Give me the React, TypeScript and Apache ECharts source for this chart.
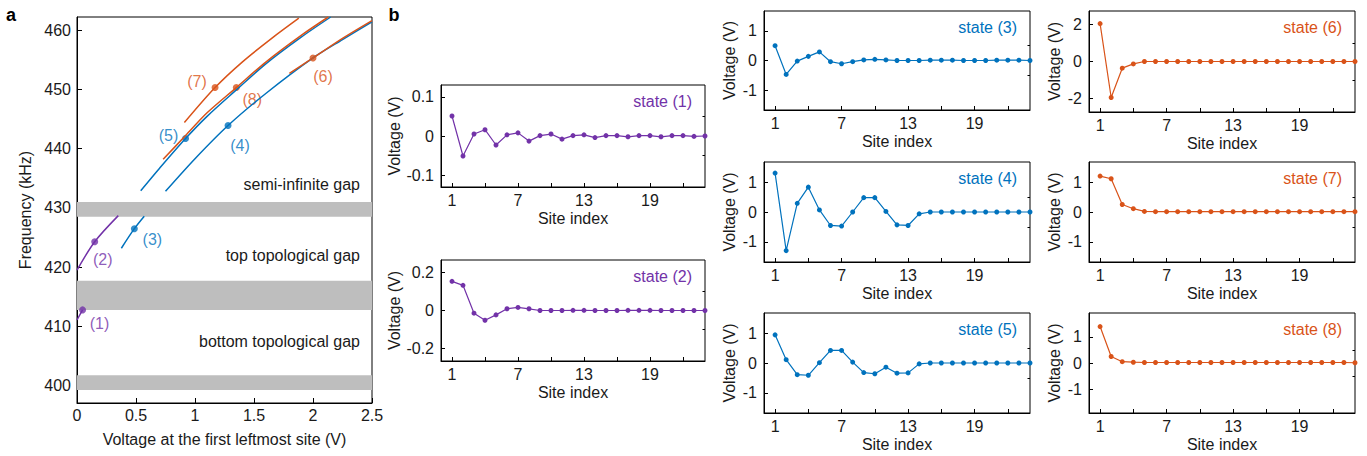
import React, { useEffect, useRef } from 'react';
import * as echarts from 'echarts';

// ---------- Panel a data ----------
const gapBands: [number, number][] = [
  [399.3, 401.8],
  [412.8, 417.7],
  [428.5, 431.0],
];

const curve1V = [0, 0.047];
const curve1F = [411.1, 412.8];
const curve2V = [0, 0.15, 0.35];
const curve2F = [419.5, 424.3, 428.7];
const curve3V = [0.376, 0.486, 0.57];
const curve3F = [423.2, 426.5, 428.6];
const curve4V = [0.75, 1.0, 1.28, 1.6, 2.0, 2.25, 2.5];
const curve4F = [432.8, 438.3, 443.9, 449.3, 455.3, 458.4, 461.4];
const curve5V = [0.54, 0.7, 0.92, 1.1, 1.35, 1.6, 1.9, 2.15];
const curve5F = [432.9, 436.7, 441.7, 445.4, 449.9, 454.3, 458.8, 462.2];
const curve6V = [1.8, 2.0, 2.25, 2.5];
const curve6F = [452.7, 455.3, 458.6, 461.6];
const curve7V = [0.91, 1.17, 1.4, 1.65, 1.88];
const curve7F = [444.4, 450.3, 454.6, 458.6, 462.0];
const curve8V = [0.73, 0.92, 1.1, 1.35, 1.6, 1.9, 2.13];
const curve8F = [438.2, 442.2, 446.0, 450.3, 454.6, 459.1, 462.2];

const markerNames = ['(1)', '(2)', '(3)', '(4)', '(5)', '(6)', '(7)', '(8)'];
const markerV = [0.047, 0.15, 0.486, 1.28, 0.92, 2.0, 1.17, 1.35];
const markerF = [412.8, 424.3, 426.5, 443.9, 441.7, 455.3, 450.3, 450.3];

const freqTicks = [400, 410, 420, 430, 440, 450, 460];
const gapTexts = ['semi-infinite gap', 'top topological gap', 'bottom topological gap'];

// ---------- Panel b data ----------
const sites = Array.from({ length: 24 }, (_, i) => i + 1);
const siteLabelTicks = [1, 7, 13, 19];
const siteMinorTicks = [1, 4, 7, 10, 13, 16, 19, 22];

const state1 = [0.051, -0.051, 0.005, 0.016, -0.023, 0.003, 0.008, -0.013, 0.001, 0.005, -0.008, 0.001, 0.003, -0.004, 0.001, 0.001, -0.002, 0.001, 0.001, -0.002, 0.001, 0.001, -0.001, 0];
const state2 = [0.153, 0.132, -0.014, -0.051, -0.023, 0.009, 0.016, 0.009, 0, 0, 0, 0.001, 0.001, 0, 0, 0, 0.001, 0.001, 0.001, 0, 0, 0, 0, 0];
const state3 = [0.5, -0.47, -0.02, 0.14, 0.29, -0.04, -0.11, -0.04, 0.02, 0.04, 0.02, 0, 0, 0, 0.01, 0.01, 0.01, 0, 0, 0, 0.01, 0.01, 0.01, 0];
const state4 = [1.3, -1.29, 0.29, 0.83, 0.07, -0.45, -0.47, 0.0, 0.48, 0.48, 0.02, -0.43, -0.45, -0.06, 0, 0, 0, 0, 0, 0, 0, 0, 0, 0];
const state5 = [0.94, 0.11, -0.39, -0.41, 0.01, 0.42, 0.42, 0.03, -0.32, -0.36, -0.14, -0.34, -0.33, -0.03, 0, 0, 0, 0, 0, 0, 0, 0, 0, 0];
const state6 = [2.04, -1.94, -0.36, -0.13, 0, 0, 0, 0, 0, 0, 0, 0, 0, 0, 0, 0, 0, 0, 0, 0, 0, 0, 0, 0];
const state7 = [1.2, 1.11, 0.25, 0.11, 0.02, 0.01, 0.01, 0.01, 0.01, 0.01, 0.01, 0.01, 0.01, 0.01, 0.01, 0.01, 0.01, 0.01, 0.01, 0.01, 0.01, 0.01, 0.01, 0.01];
const state8 = [1.4, 0.25, 0.05, 0.03, 0.02, 0.02, 0.02, 0.02, 0.02, 0.02, 0.02, 0.02, 0.02, 0.02, 0.02, 0.02, 0.02, 0.02, 0.02, 0.02, 0.02, 0.02, 0.02, 0.01];

const stateNames = ['state (1)', 'state (2)', 'state (3)', 'state (4)', 'state (5)', 'state (6)', 'state (7)', 'state (8)'];
const stateValues = [state1, state2, state3, state4, state5, state6, state7, state8];
const stateYMax = [0.13, 0.265, 1.67, 1.67, 1.67, 2.72, 1.67, 1.92];
const stateYLabels = [
  [-0.1, 0, 0.1],
  [-0.2, 0, 0.2],
  [-1, 0, 1],
  [-1, 0, 1],
  [-1, 0, 1],
  [-2, 0, 2],
  [-1, 0, 1],
  [-1, 0, 1],
];
const stateYMinor = [
  [-0.05, 0.05],
  [-0.1, 0.1],
  [-0.5, 0.5],
  [-0.5, 0.5],
  [-0.5, 0.5],
  [-1, 1],
  [-0.5, 0.5],
  [-0.5, 0.5],
];

// ---------- Styles ----------
const BLUE = '#0072BD';
const ORANGE = '#D95319';
const PURPLE = '#7232A8';
const GRAY = '#BEBEBE';
const TXT = '#1a1a1a';
const FONT = '"Liberation Sans", Arial, sans-serif';
const FS = 16;

const markerColors = [PURPLE, PURPLE, BLUE, BLUE, BLUE, ORANGE, ORANGE, ORANGE];
const markerOffsets = [[17, 14], [8, 18], [18, 11], [12, 20], [-17, -3], [10, 19], [-18, -6], [16, 12]];
const stateColors = [PURPLE, PURPLE, BLUE, BLUE, BLUE, ORANGE, ORANGE, ORANGE];

const grids = [
  { left: 77, top: 17, width: 295, height: 386 },
  { left: 441, top: 85, width: 264, height: 102 },
  { left: 441, top: 260, width: 264, height: 101 },
  { left: 764, top: 11, width: 266, height: 99 },
  { left: 764, top: 162, width: 266, height: 100 },
  { left: 764, top: 313, width: 266, height: 100 },
  { left: 1089, top: 11, width: 266, height: 101 },
  { left: 1089, top: 162, width: 266, height: 100 },
  { left: 1089, top: 313, width: 266, height: 100 },
];
const stateYNameGap = [39, 39, 27, 27, 27, 27, 27, 27];

function zip(a: number[], b: number[]) {
  return a.map((v, i) => [v, b[i]]);
}

export default function App() {
  const ref = useRef<HTMLDivElement>(null);
  useEffect(() => {
    const chart = echarts.init(ref.current!, null, { renderer: 'svg' });
    const axisLine = { show: true, onZero: false, lineStyle: { color: '#000', width: 1 } };
    const labelStyle = { color: TXT, fontSize: FS, fontFamily: FONT };

    const xAxis: any[] = [];
    const yAxis: any[] = [];
    const series: any[] = [];
    const graphic: any[] = [];

    // Panel a axes
    xAxis.push({
      type: 'value', gridIndex: 0, min: 0, max: 2.5, interval: 0.5,
      axisLine, splitLine: { show: false },
      axisTick: { show: true, inside: true, length: 5, lineStyle: { color: '#000' } },
      axisLabel: { ...labelStyle, margin: 4 },
      name: 'Voltage at the first leftmost site (V)', nameLocation: 'middle', nameGap: 28,
      nameTextStyle: labelStyle,
    });
    yAxis.push({
      type: 'value', gridIndex: 0, min: 397.1, max: 462.2,
      axisLine, splitLine: { show: false },
      axisTick: { show: true, inside: true, length: 5, customValues: freqTicks, lineStyle: { color: '#000' } },
      axisLabel: { ...labelStyle, margin: 6, customValues: freqTicks },
      name: 'Frequency (kHz)', nameLocation: 'middle', nameGap: 44,
      nameTextStyle: labelStyle,
    });

    // Panel b axes
    for (let s = 0; s < 8; s++) {
      const gi = s + 1;
      xAxis.push({
        type: 'value', gridIndex: gi, min: 0, max: 24,
        axisLine, splitLine: { show: false },
        axisTick: { show: true, inside: true, length: 4, customValues: siteMinorTicks, lineStyle: { color: '#000' } },
        axisLabel: { ...labelStyle, margin: 5, customValues: siteLabelTicks },
        name: 'Site index', nameLocation: 'middle', nameGap: 23,
        nameTextStyle: labelStyle,
      });
      yAxis.push({
        type: 'value', gridIndex: gi, min: -stateYMax[s], max: stateYMax[s],
        axisLine, splitLine: { show: false },
        axisTick: { show: true, inside: true, length: 4, customValues: stateYLabels[s], lineStyle: { color: '#000' } },
        axisLabel: { ...labelStyle, margin: 7, customValues: stateYLabels[s] },
        name: 'Voltage (V)', nameLocation: 'middle', nameGap: stateYNameGap[s],
        nameTextStyle: labelStyle,
      });
    }
    // minor y ticks for panel b
    for (let s = 0; s < 8; s++) {
      const gi = s + 1;
      yAxis.push({
        type: 'value', gridIndex: gi, min: -stateYMax[s], max: stateYMax[s],
        axisLine: { show: false, onZero: false }, splitLine: { show: false },
        axisTick: { show: true, inside: true, length: 2.5, customValues: stateYMinor[s], lineStyle: { color: '#000' } },
        axisLabel: { show: false },
      });
    }

    // Panel a: gap bands
    series.push({
      type: 'line', xAxisIndex: 0, yAxisIndex: 0, data: [], silent: true,
      markArea: {
        silent: true,
        itemStyle: { color: GRAY },
        data: gapBands.map(([a, b]) => [{ yAxis: a }, { yAxis: b }]),
      },
    });

    const curves: [number[], number[], string][] = [
      [curve1V, curve1F, PURPLE],
      [curve2V, curve2F, PURPLE],
      [curve3V, curve3F, BLUE],
      [curve4V, curve4F, BLUE],
      [curve5V, curve5F, BLUE],
      [curve6V, curve6F, ORANGE],
      [curve7V, curve7F, ORANGE],
      [curve8V, curve8F, ORANGE],
    ];
    curves.forEach(([v, f, c]) => {
      series.push({
        type: 'line', xAxisIndex: 0, yAxisIndex: 0, data: zip(v, f),
        showSymbol: false, smooth: 0.3, clip: true,
        lineStyle: { color: c, width: 1.5 }, silent: true,
      });
    });

    series.push({
      type: 'scatter', xAxisIndex: 0, yAxisIndex: 0, symbolSize: 7, silent: true,
      data: markerV.map((v, i) => ({
        value: [v, markerF[i]],
        itemStyle: { color: markerColors[i] },
        label: {
          show: true, formatter: markerNames[i], position: 'inside',
          offset: markerOffsets[i], color: markerColors[i], fontSize: FS, fontFamily: FONT,
        },
      })),
    });

    // Panel b series
    stateValues.forEach((vals, s) => {
      series.push({
        type: 'line', xAxisIndex: s + 1, yAxisIndex: s + 1,
        data: zip(sites, vals), symbol: 'circle', symbolSize: 5, showSymbol: true,
        itemStyle: { color: stateColors[s] }, lineStyle: { color: stateColors[s], width: 1.2 },
        silent: true, clip: true,
      });
      const g = grids[s + 1];
      graphic.push({
        type: 'text', x: g.left + g.width - 13, y: g.top + 16,
        style: {
          text: stateNames[s], fill: stateColors[s], fontSize: FS, fontFamily: FONT,
          align: 'right', verticalAlign: 'middle',
        },
      });
    });

    // Panel a texts
    const ga = grids[0];
    const gapTextY = [184, 255, 341];
    gapTexts.forEach((t, i) => {
      graphic.push({
        type: 'text', x: ga.left + ga.width - 12, y: gapTextY[i],
        style: { text: t, fill: TXT, fontSize: FS, fontFamily: FONT, align: 'right', verticalAlign: 'middle' },
      });
    });
    graphic.push({
      type: 'text', x: 11, y: 15,
      style: { text: 'a', fill: '#000', fontSize: 18, fontWeight: 'bold', fontFamily: FONT, align: 'center', verticalAlign: 'middle' },
    });
    graphic.push({
      type: 'text', x: 394, y: 15,
      style: { text: 'b', fill: '#000', fontSize: 18, fontWeight: 'bold', fontFamily: FONT, align: 'center', verticalAlign: 'middle' },
    });

    chart.setOption({
      animation: false,
      backgroundColor: '#fff',
      textStyle: { fontFamily: FONT },
      grid: grids.map((g) => ({ ...g, show: true, borderColor: '#000', borderWidth: 1, backgroundColor: 'transparent', containLabel: false })),
      xAxis,
      yAxis,
      series,
      graphic,
    });
    return () => chart.dispose();
  }, []);
  return <div ref={ref} style={{ position: 'fixed', left: 0, top: 0, width: 1367, height: 456 }} />;
}
